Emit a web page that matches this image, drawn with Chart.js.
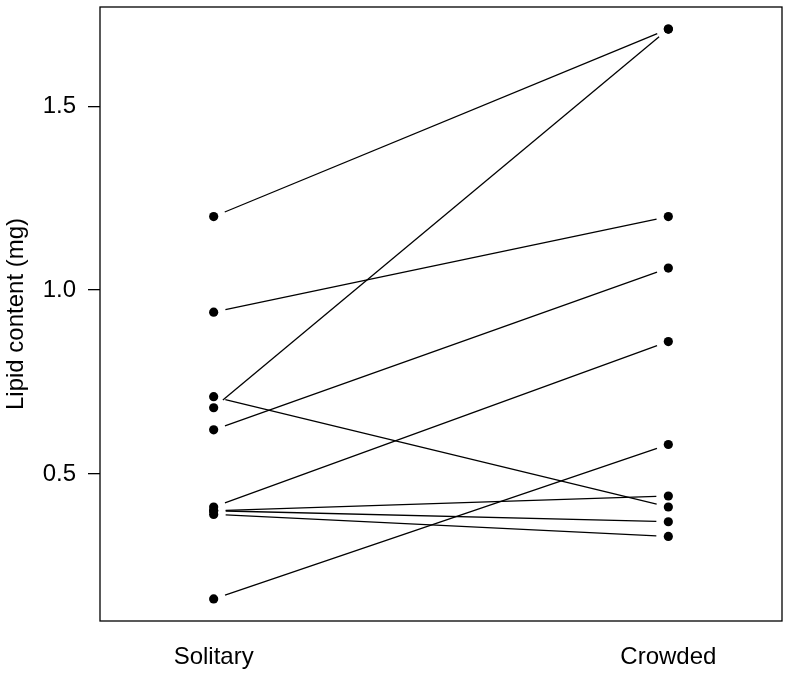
<!DOCTYPE html>
<html>
<head>
<meta charset="utf-8">
<script src="https://cdn.jsdelivr.net/npm/chart.js@4/dist/chart.umd.min.js"></script>
<style>
  html, body { margin: 0; padding: 0; background: #fff; }
  #wrap { width: 793px; height: 679px; }
</style>
</head>
<body>
<div id="wrap"><canvas id="pairChart" width="793" height="679"></canvas></div>
<script>
// 個体ごとの脂質量 (mg)：Solitary → Crowded
const groups = ['Solitary', 'Crowded'];
const solitary = [1.20, 0.94, 0.68, 0.71, 0.62, 0.41, 0.40, 0.40, 0.39, 0.16];
const crowded  = [1.71, 1.20, 1.71, 0.41, 1.06, 0.86, 0.44, 0.37, 0.33, 0.58];
const yTicks = [0.5, 1.0, 1.5];

const FONT = 'Liberation Sans, Arial, Helvetica, sans-serif';
const GAP = 12; // R の type="b" のように点の周りを空ける

// ペアごとに1本の線
const datasets = solitary.map((s, i) => ({
    data: [{ x: 1, y: s }, { x: 2, y: crowded[i] }],
    borderColor: '#000',
    borderWidth: 1.3,
    pointRadius: 4.6,
    pointBackgroundColor: '#000',
    pointBorderWidth: 0,
    pointHoverRadius: 4.6,
    fill: false,
    segment: {
        borderDash: ctx => {
            const L = Math.hypot(ctx.p1.x - ctx.p0.x, ctx.p1.y - ctx.p0.y);
            return [0, GAP, Math.max(L - 2 * GAP, 0), L + 10];
        }
    }
}));

// 枠線
const frame = {
    id: 'frame',
    afterDraw(chart) {
        const { ctx, chartArea: a } = chart;
        ctx.save();
        ctx.strokeStyle = '#000';
        ctx.lineWidth = 1.3;
        ctx.strokeRect(a.left, a.top, a.right - a.left, a.bottom - a.top);
        ctx.restore();
    }
};

const ctx = document.getElementById('pairChart').getContext('2d');
const chart = new Chart(ctx, {
    type: 'line',
    data: { datasets: datasets },
    plugins: [frame],
    options: {
        responsive: false,
        animation: false,
        layout: { padding: { top: 7, right: 11, left: 0, bottom: 0 } },
        plugins: { legend: { display: false }, tooltip: { enabled: false } },
        scales: {
            x: {
                type: 'linear',
                min: 0.75,
                max: 2.25,
                afterBuildTicks: s => { s.ticks = groups.map((g, i) => ({ value: i + 1 })); },
                afterFit: s => { s.height = 58; s.paddingLeft = 0; s.paddingRight = 0; },
                grid: { display: false, drawTicks: false },
                border: { display: false },
                ticks: {
                    color: '#000',
                    font: { family: FONT, size: 24 },
                    padding: 22,
                    maxRotation: 0,
                    autoSkip: false,
                    callback: v => groups[v - 1]
                }
            },
            y: {
                min: 0.10,
                max: 1.77,
                afterBuildTicks: s => { s.ticks = yTicks.map(v => ({ value: v })); },
                afterFit: s => { s.width = 100; s.paddingTop = 0; s.paddingBottom = 0; },
                grid: { drawOnChartArea: false, drawTicks: true, tickLength: 12, tickColor: '#000', lineWidth: 1.3 },
                border: { display: false },
                ticks: {
                    color: '#000',
                    font: { family: FONT, size: 24 },
                    padding: 12,
                    callback: v => v.toFixed(1)
                },
                title: {
                    display: true,
                    text: 'Lipid content (mg)',
                    color: '#000',
                    font: { family: FONT, size: 24 },
                    padding: { top: 2, bottom: 0 }
                }
            }
        }
    }
});
</script>
</body>
</html>
